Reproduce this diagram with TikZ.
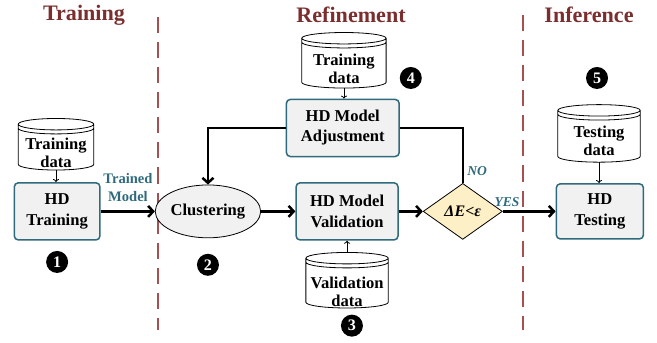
\documentclass[tikz,border=0pt]{standalone}
\usepackage{fontspec}
\setmainfont{Liberation Serif}
\usepackage{xcolor}
\usepackage{tikz}
\usetikzlibrary{
    calc,
    arrows.meta,
    shapes.geometric
}
\definecolor{phasered}{HTML}{7A2E2E}
\definecolor{splitred}{HTML}{A8504F}
\definecolor{boxteal}{HTML}{2F6B7C}
\definecolor{boxgray}{HTML}{F1F1F1}
\definecolor{condyellow}{HTML}{FDEFC6}
\tikzset{
    phase/.style={font=\fontsize{22}{26}\selectfont\bfseries, text=phasered},
    split/.style={splitred, line width=1.6pt, dash pattern=on 16pt off 9pt},
    hdbox/.style={draw=boxteal, fill=boxgray, line width=1.5pt, rounded corners=4pt,
        align=center, inner sep=2pt, font=\fontsize{16.5}{20}\selectfont\bfseries},
    dbase/.style={rectangle, inner sep=0pt},
    dbtext/.style={align=center, inner sep=0pt, yshift=-0.3cm,
        font=\fontsize{16.5}{18.5}\selectfont\bfseries},
    stepnum/.style={circle, fill=black, text=white, inner sep=0pt, minimum size=0.77cm,
        font=\fontsize{16}{16}\selectfont\bfseries},
    flow/.style={-{Straight Barb[length=5pt,width=11pt]}, line width=2.5pt},
    feed/.style={-{To[length=3pt,width=6pt]}, line width=0.8pt},
    tag/.style={text=boxteal, font=\fontsize{13.5}{16}\selectfont\bfseries\itshape}
}
% outline of a data cylinder round node #1: body, lid and the rim under the lid
\newcommand{\dbdraw}[1]{%
    \draw[line width=0.8pt] let \p1=($(#1.east)-(#1.center)$) in
        ($(#1.north west)+(0,-0.2)$) -- ($(#1.south west)+(0,0.2)$)
        arc[start angle=180, end angle=360, x radius=\x1, y radius=0.2cm]
        -- ($(#1.north east)+(0,-0.2)$)
        arc[start angle=0, end angle=360, x radius=\x1, y radius=0.2cm]
        ($(#1.north west)+(0,-0.34)$)
        arc[start angle=180, end angle=360, x radius=\x1, y radius=0.2cm];}

\begin{document}
\begin{tikzpicture}
    \useasboundingbox (0,0) rectangle (23,12);

    % phases
    \node[phase] (ptrain) at (2.94,11.48) {Training};
    \node[phase] (prefine) at (12.29,11.48) {Refinement};
    \node[phase] (pinfer) at (20.62,11.48) {Inference};
    \coordinate (s1top) at (5.53,11.41);
    \coordinate (s1bot) at (5.53,0.45);
    \coordinate (s2top) at (18.31,11.48);
    \coordinate (s2bot) at (18.31,0.45);
    \draw[split] (s1top) -- (s1bot);
    \draw[split] (s2top) -- (s2bot);

    % training
    \node[dbase, minimum width=2.63cm, minimum height=1.79cm,
        label={[dbtext]center:Training\\data}] (tdata) at (1.96,6.95) {};
    \dbdraw{tdata}
    \node[hdbox, minimum width=3.0cm, minimum height=2.0cm] (hdtrain) at (2.0,4.6) {HD\\Training};
    \draw[feed] (tdata) -- (tdata |- hdtrain.north);
    \node[stepnum] (n1) at (2.0,2.83) {1};
    \node[align=center, text=boxteal, font=\fontsize{14.5}{18}\selectfont\bfseries] (tmodel) at (4.48,5.45) {Trained\\Model};

    % refinement
    \node[ellipse, draw, fill=boxgray, line width=0.8pt, minimum width=2.9cm, minimum height=1.85cm,
        inner sep=0pt, font=\fontsize{16.5}{20}\selectfont\bfseries] (clust) at (7.28,4.6) {Clustering};
    \node[stepnum] (n2) at (7.28,2.73) {2};
    \draw[flow] (hdtrain) -- (clust);

    \node[hdbox, minimum width=3.57cm, minimum height=2.0cm] (valid) at (12.15,4.6) {HD Model\\Validation};
    \node[dbase, minimum width=2.87cm, minimum height=1.93cm,
        label={[dbtext, yshift=-0.1cm]center:Validation\\data}] (vdata) at (12.15,2.19) {};
    \dbdraw{vdata}
    \node[stepnum] (n3) at (12.32,0.6) {3};
    \draw[feed] (vdata) -- (valid);
    \draw[flow] (clust) -- (valid);

    \node[hdbox, minimum width=3.95cm, minimum height=2.0cm] (adjust) at (12.0,7.52) {HD Model\\Adjustment};
    \node[dbase, minimum width=2.94cm, minimum height=1.93cm,
        label={[dbtext]center:Training\\data}] (rdata) at (12.04,9.89) {};
    \dbdraw{rdata}
    \node[stepnum] (n4) at (14.38,9.27) {4};
    \draw[feed] (rdata) -- (rdata |- adjust.north);

    \node[diamond, draw, fill=condyellow, line width=0.8pt, minimum width=2.77cm, minimum height=1.96cm,
        inner sep=0pt, font=\fontsize{16}{18}\selectfont\bfseries\itshape] (cond) at (16.2,4.6) {ΔE<ε};
    \draw[flow] (valid) -- (cond);
    \draw[line width=2.5pt] (cond.north) |- (adjust.east);
    \draw[flow] (adjust.west) -| (clust.north);
    \node[tag] (tno) at (16.7,6.02) {NO};
    \node[tag] (tyes) at (17.75,4.94) {YES};

    % inference
    \node[hdbox, minimum width=3.05cm, minimum height=1.93cm] (hdtest) at (21.0,4.6) {HD\\Testing};
    \node[dbase, minimum width=2.87cm, minimum height=2.0cm,
        label={[dbtext, yshift=0.04cm]center:Testing\\data}] (sdata) at (20.97,7.33) {};
    \dbdraw{sdata}
    \node[stepnum] (n5) at (20.9,9.27) {5};
    \draw[feed] (sdata) -- (sdata |- hdtest.north);
    \draw[flow] (cond) -- (hdtest);
\end{tikzpicture}
\end{document}
